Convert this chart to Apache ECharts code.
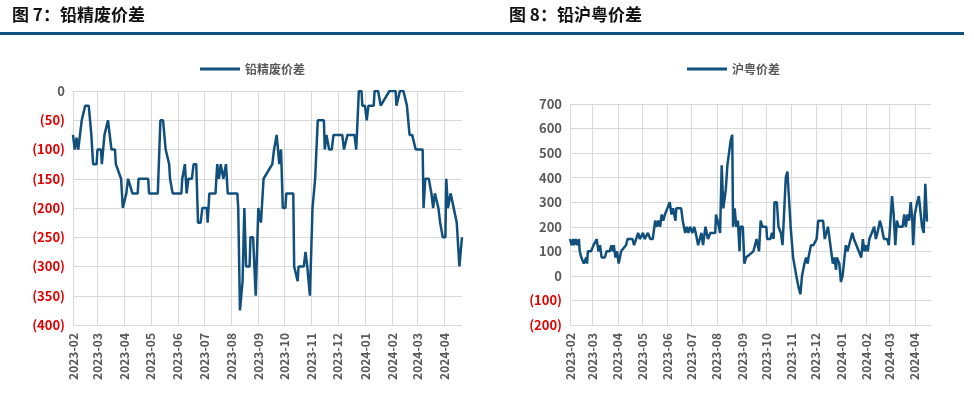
<!DOCTYPE html>
<html><head><meta charset="utf-8">
<script src="https://cdn.jsdelivr.net/npm/echarts@6/dist/echarts.min.js"></script>
<style>body{margin:0}#main{width:974px;height:410px}</style>
</head><body><div id="main"></div>
<script>
// days since 2023-02-01 and values
const leadDay = [0,2,4,6,8,10,12,14,18,21,23,27,28,32,33,36,40,44,48,49,55,57,61,63,68,74,75,86,87,97,100,103,106,110,111,114,124,125,128,130,132,136,138,141,143,146,148,153,154,156,163,165,167,169,172,175,177,188,189,191,194,196,198,202,203,206,209,212,215,218,228,230,233,236,238,240,243,244,252,253,257,258,264,266,268,271,274,277,280,287,288,290,293,296,298,308,310,314,322,324,327,330,331,334,336,338,344,345,349,352,362,369,370,372,374,378,382,385,388,390,392,400,401,403,407,410,412,414,418,420,423,426,427,429,432,434,439,441,442,445];
const leadVal = [-75,-100,-80,-100,-75,-50,-50,-25,-25,-75,-125,-125,-100,-100,-125,-75,-50,-100,-100,-125,-150,-200,-175,-150,-175,-175,-150,-150,-175,-175,-50,-50,-100,-125,-150,-175,-175,-150,-125,-175,-150,-150,-125,-125,-225,-225,-200,-200,-225,-175,-175,-125,-150,-125,-150,-125,-175,-175,-200,-375,-325,-200,-300,-300,-250,-250,-350,-200,-225,-150,-125,-100,-75,-125,-100,-200,-200,-175,-175,-300,-325,-300,-300,-275,-300,-350,-200,-150,-50,-50,-100,-75,-100,-100,-75,-75,-100,-75,-75,-100,0,0,-25,-25,-50,-25,-25,0,0,-25,0,0,-25,-25,0,0,-25,-75,-75,-75,-100,-100,-200,-150,-150,-175,-200,-175,-200,-225,-250,-250,-150,-200,-175,-175,-225,-225,-300,-250];
const hyDay = [0,2,4,5,7,9,11,12,14,17,20,21,22,26,29,33,35,37,39,43,45,49,51,53,54,56,58,60,63,69,71,77,79,84,86,90,92,96,99,102,104,105,107,109,111,113,115,117,120,123,125,127,130,131,137,139,142,144,146,148,151,153,155,158,160,162,164,167,170,173,179,180,182,183,185,187,189,192,194,198,200,201,203,205,207,209,210,213,215,217,226,228,230,233,235,237,242,243,247,249,251,252,255,257,260,262,266,268,272,275,279,282,284,286,289,291,293,294,297,300,304,306,312,314,316,318,320,324,326,328,329,332,334,336,340,342,344,348,350,359,361,363,365,367,369,372,375,377,379,382,384,387,391,393,395,397,399,401,403,405,410,412,414,416,418,420,422,423,425,428,430,434,436,438,440,441];
const hyVal = [150,125,150,125,150,125,150,100,75,50,75,50,100,100,125,150,100,125,75,75,100,100,125,100,125,75,100,50,100,125,150,150,125,175,150,175,150,175,150,150,200,225,200,225,200,250,225,250,275,300,250,275,225,275,275,225,175,200,175,200,175,200,175,125,150,175,125,200,150,175,175,250,225,225,175,450,275,350,450,550,575,200,275,200,225,100,200,200,50,75,100,125,150,100,225,200,200,150,150,175,150,300,300,200,175,125,400,425,200,75,0,-50,-75,0,50,75,50,75,125,125,150,225,225,150,150,200,150,50,75,25,75,50,-25,0,125,100,125,175,150,75,150,100,125,100,150,175,200,150,175,225,200,150,150,125,125,325,250,125,225,200,200,250,200,250,225,300,225,125,250,300,325,200,175,375,225,225];

const days = [];
const start = Date.UTC(2023, 1, 1);
for (let i = 0; i <= 445; i++) {
  days.push(new Date(start + i * 86400000).toISOString().slice(0, 10));
}
const pairs = (d, v) => d.map((x, i) => [x, v[i]]);
const isMonth = (idx, val) => days[idx].endsWith('-01');
const lineColor = '#11507d';

const yLabel = {
  fontSize: 13, fontWeight: 'bold', color: '#595959', fontFamily: 'Noto Sans CJK SC',
  formatter: v => v < 0 ? '{r|(' + (-v) + ')}' : String(v),
  rich: { r: { color: '#e00000', fontSize: 13, fontWeight: 'bold' } }
};
const xAxis = gi => ({
  type: 'category', gridIndex: gi, data: days, boundaryGap: false,
  axisTick: { show: false },
  axisLine: { lineStyle: { color: '#d9d9d9' } },
  axisLabel: { interval: isMonth, rotate: 90, formatter: v => v.slice(0, 7),
    fontSize: 12, fontWeight: 'bold', color: '#595959', fontFamily: 'Noto Sans CJK SC' },
  splitLine: { show: true, interval: isMonth, lineStyle: { color: '#d9d9d9' } }
});
const yAxis = (gi, min, max, step) => ({
  type: 'value', gridIndex: gi, min: min, max: max, interval: step,
  axisLabel: yLabel, axisLine: { show: false }, axisTick: { show: false },
  splitLine: { lineStyle: { color: '#d9d9d9' } }
});

const chart = echarts.init(document.getElementById('main'));
chart.setOption({
  animation: false,
  textStyle: { fontFamily: 'Noto Sans CJK SC' },
  graphic: [
    { type: 'text', left: 12, top: 6, style: { text: '图 7：铅精废价差', font: 'bold 17px "Noto Sans CJK SC"', fill: '#111' } },
    { type: 'text', left: 509, top: 6, style: { text: '图 8：铅沪粤价差', font: 'bold 17px "Noto Sans CJK SC"', fill: '#111' } },
    { type: 'rect', shape: { x: 0, y: 32, width: 964, height: 3 }, style: { fill: '#11507d' } }
  ],
  legend: [
    { data: ['铅精废价差'], left: 195, top: 58, itemWidth: 40, itemHeight: 3, icon: 'rect',
      textStyle: { fontSize: 12, fontWeight: 'bold', color: '#595959' } },
    { data: ['沪粤价差'], left: 682, top: 58, itemWidth: 40, itemHeight: 3, icon: 'rect',
      textStyle: { fontSize: 12, fontWeight: 'bold', color: '#595959' } }
  ],
  grid: [
    { left: 73, right: 512, top: 91, bottom: 85 },
    { left: 570, right: 43, top: 104, bottom: 85 }
  ],
  xAxis: [xAxis(0), xAxis(1)],
  yAxis: [yAxis(0, -400, 0, 50), yAxis(1, -200, 700, 100)],
  series: [
    { name: '铅精废价差', type: 'line', xAxisIndex: 0, yAxisIndex: 0, data: pairs(leadDay, leadVal),
      showSymbol: false, lineStyle: { color: lineColor, width: 2.5 }, itemStyle: { color: lineColor } },
    { name: '沪粤价差', type: 'line', xAxisIndex: 1, yAxisIndex: 1, data: pairs(hyDay, hyVal),
      showSymbol: false, lineStyle: { color: lineColor, width: 2.5 }, itemStyle: { color: lineColor } }
  ]
});
</script></body></html>
